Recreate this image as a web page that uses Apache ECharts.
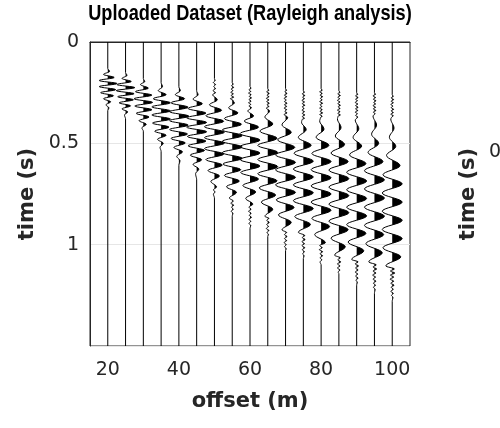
<!DOCTYPE html>
<html><head><meta charset="utf-8">
<script src="https://cdn.jsdelivr.net/npm/echarts@6/dist/echarts.min.js"></script>
<style>html,body{margin:0;padding:0;background:#fff}#c{width:500px;height:428px}</style>
</head><body><div id="c"></div>
<script>
// offsets of the traces (m)
const offsets = [20,25,30,35,40,45,50,55,60,65,70,75,80,85,90,95,100];
// tick labels
const xTickLabels = [20,40,60,80,100];
const yTickLabels = [0,0.5,1];
// each trace: [time (s), amplitude (m)] extrema
const tr20 = [[0.13,0],[0.145,0.5],[0.16,-1.2],[0.175,1.8],[0.19,-2.4],[0.205,2.6],[0.22,-2.4],[0.235,2.2],[0.25,-2.0],[0.265,1.6],[0.28,-1.2],[0.295,0.8],[0.31,-0.5],[0.325,0.3],[0.34,0]];
const tr25 = [[0.15,0],[0.165,0.4],[0.18,-1],[0.195,1.6],[0.21,-2.4],[0.225,2.6],[0.24,-2.6],[0.255,2.4],[0.27,-2.2],[0.285,2.2],[0.30,-1.8],[0.315,1.4],[0.33,-1],[0.345,0.6],[0.36,-0.3],[0.38,0]];
const tr30 = [[0.18,0],[0.195,0.4],[0.21,-0.8],[0.228,1.4],[0.245,-2.2],[0.262,2.4],[0.28,-2.6],[0.298,2.6],[0.316,-2.4],[0.334,2.4],[0.352,-2],[0.37,1.6],[0.388,-1.2],[0.406,0.8],[0.424,-0.4],[0.44,0]];
const tr35 = [[0.2,0],[0.22,0.4],[0.24,-0.8],[0.26,1.4],[0.28,-2.2],[0.30,2.6],[0.32,-2.6],[0.34,2.6],[0.36,-2.6],[0.38,2.6],[0.40,-2.4],[0.42,2.2],[0.44,-1.8],[0.46,1.4],[0.48,-1],[0.50,0.6],[0.52,-0.3],[0.54,0]];
const tr40 = [[0.22,0],[0.24,0.4],[0.26,-1],[0.28,1.6],[0.30,-2.2],[0.322,2.6],[0.344,-2.6],[0.366,2.8],[0.388,-2.6],[0.41,2.6],[0.432,-2.6],[0.454,2.4],[0.476,-2.2],[0.498,1.8],[0.52,-1.4],[0.542,1],[0.564,-0.6],[0.586,0.3],[0.61,0]];
const tr45 = [[0.24,0],[0.26,0.4],[0.282,-1],[0.305,1.6],[0.328,-2.4],[0.351,2.6],[0.374,-2.8],[0.397,2.8],[0.42,-2.8],[0.443,2.8],[0.466,-2.6],[0.489,2.6],[0.512,-2.4],[0.535,2.2],[0.558,-1.8],[0.581,1.4],[0.604,-1],[0.627,0.6],[0.65,-0.3],[0.68,0]];
const tr50 = [[0.18,0],[0.19,0.2],[0.2,-0.3],[0.21,0.3],[0.22,-0.2],[0.23,0.3],[0.24,-0.4],[0.25,0.3],[0.26,-0.5],[0.285,0.8],[0.31,-1.4],[0.337,2],[0.364,-2.4],[0.391,2.6],[0.418,-2.8],[0.445,2.8],[0.472,-2.8],[0.499,2.8],[0.526,-2.8],[0.553,2.6],[0.58,-2.4],[0.607,2.2],[0.634,-1.8],[0.661,1.4],[0.688,-1],[0.715,0.6],[0.73,-0.3],[0.74,0.2],[0.75,-0.3],[0.77,0]];
const tr55 = [[0.2,0],[0.208,0.3],[0.216,-0.2],[0.224,0.4],[0.232,-0.3],[0.24,0.2],[0.248,-0.4],[0.256,0.3],[0.264,-0.3],[0.272,0.4],[0.28,-0.5],[0.29,0.3],[0.30,0.6],[0.325,-1],[0.35,1.6],[0.378,-2.2],[0.406,2.6],[0.434,-2.8],[0.462,2.8],[0.49,-2.8],[0.518,2.8],[0.546,-2.8],[0.574,2.8],[0.602,-2.6],[0.63,2.4],[0.658,-2.2],[0.686,2],[0.714,-1.6],[0.742,1.2],[0.77,-0.8],[0.785,0.3],[0.795,-0.4],[0.805,0.4],[0.815,-0.2],[0.825,0.3],[0.835,-0.3],[0.845,0.2],[0.86,0]];
const tr60 = [[0.22,0],[0.228,0.3],[0.236,-0.3],[0.244,0.2],[0.252,-0.4],[0.26,0.3],[0.268,-0.2],[0.276,0.4],[0.284,-0.3],[0.292,0.3],[0.30,-0.4],[0.308,0.2],[0.316,-0.3],[0.324,0.4],[0.34,-0.6],[0.365,1],[0.39,-1.6],[0.42,2.4],[0.452,-2.8],[0.484,2.8],[0.516,-2.8],[0.548,2.8],[0.58,-2.8],[0.612,2.8],[0.644,-2.6],[0.676,2.4],[0.708,-2],[0.74,1.6],[0.772,-1.2],[0.80,0.8],[0.815,-0.3],[0.825,0.3],[0.835,-0.4],[0.845,0.3],[0.855,-0.2],[0.865,0.4],[0.875,-0.3],[0.885,0.2],[0.895,-0.3],[0.905,0.2],[0.92,0]];
const tr65 = [[0.23,0],[0.238,0.3],[0.246,-0.3],[0.254,0.4],[0.262,-0.2],[0.27,0.3],[0.278,-0.4],[0.286,0.3],[0.294,-0.3],[0.302,0.4],[0.31,-0.2],[0.318,0.3],[0.326,-0.4],[0.34,0.5],[0.37,-0.8],[0.405,1.4],[0.44,-2.2],[0.475,2.6],[0.51,-2.8],[0.545,2.8],[0.58,-2.8],[0.615,2.8],[0.65,-2.8],[0.685,2.6],[0.72,-2.4],[0.755,2.2],[0.79,-1.8],[0.825,1.4],[0.86,-0.8],[0.87,0.3],[0.88,-0.3],[0.89,0.4],[0.90,-0.3],[0.91,0.2],[0.92,-0.4],[0.93,0.3],[0.94,-0.2],[0.95,0.2],[0.96,0]];
const tr70 = [[0.23,0],[0.238,0.3],[0.246,-0.2],[0.254,0.4],[0.262,-0.3],[0.27,0.3],[0.278,-0.4],[0.286,0.2],[0.294,-0.3],[0.302,0.4],[0.31,-0.3],[0.318,0.3],[0.326,-0.4],[0.334,0.3],[0.342,-0.2],[0.35,0.4],[0.358,-0.4],[0.372,0.6],[0.409,-1],[0.446,1.6],[0.483,-2.2],[0.52,2.6],[0.557,-2.8],[0.594,2.8],[0.631,-2.8],[0.668,2.8],[0.705,-2.8],[0.742,2.8],[0.779,-2.6],[0.816,2.4],[0.853,-2],[0.89,1.6],[0.927,-1],[0.94,0.3],[0.95,-0.3],[0.96,0.4],[0.97,-0.3],[0.98,0.3],[0.99,-0.4],[1.00,0.2],[1.01,-0.3],[1.02,0.2],[1.03,0]];
const tr75 = [[0.24,0],[0.248,0.3],[0.256,-0.3],[0.264,0.4],[0.272,-0.2],[0.28,0.3],[0.288,-0.4],[0.296,0.3],[0.304,-0.3],[0.312,0.4],[0.32,-0.3],[0.328,0.2],[0.336,-0.4],[0.344,0.3],[0.352,-0.3],[0.36,0.4],[0.368,-0.3],[0.376,0.3],[0.384,-0.4],[0.396,-0.5],[0.432,0.8],[0.471,-1.4],[0.51,2.2],[0.549,-2.6],[0.588,2.8],[0.627,-2.8],[0.666,2.8],[0.705,-2.8],[0.744,2.8],[0.783,-2.8],[0.822,2.8],[0.861,-2.4],[0.90,2],[0.939,-1.4],[0.955,0.4],[0.965,-0.3],[0.975,0.5],[0.985,-0.4],[0.995,0.3],[1.005,-0.4],[1.015,0.4],[1.025,-0.3],[1.035,0.3],[1.045,-0.2],[1.055,0.2],[1.07,0]];
const tr80 = [[0.23,0],[0.238,0.3],[0.246,-0.4],[0.254,0.3],[0.262,-0.3],[0.27,0.4],[0.278,-0.2],[0.286,0.3],[0.294,-0.4],[0.302,0.4],[0.31,-0.3],[0.318,0.2],[0.326,-0.4],[0.334,0.3],[0.342,-0.3],[0.35,0.4],[0.358,-0.4],[0.366,0.3],[0.374,-0.2],[0.39,-0.4],[0.43,0.8],[0.47,-1.4],[0.51,2.2],[0.55,-2.6],[0.59,2.8],[0.63,-2.8],[0.67,2.8],[0.71,-2.8],[0.75,2.8],[0.79,-2.8],[0.83,2.8],[0.87,-2.6],[0.91,2.4],[0.95,-1.8],[0.99,1.2],[1.005,-0.4],[1.015,0.3],[1.025,-0.5],[1.035,0.4],[1.045,-0.3],[1.055,0.4],[1.065,-0.3],[1.075,0.2],[1.085,-0.3],[1.1,0]];
const tr85 = [[0.24,0],[0.248,0.3],[0.256,-0.3],[0.264,0.4],[0.272,-0.3],[0.28,0.2],[0.288,-0.4],[0.296,0.3],[0.304,-0.3],[0.312,0.4],[0.32,-0.2],[0.328,0.3],[0.336,-0.4],[0.344,0.3],[0.352,-0.3],[0.36,0.4],[0.368,-0.3],[0.38,-0.4],[0.422,0.6],[0.464,-1],[0.506,1.6],[0.548,-2.2],[0.59,2.6],[0.632,-2.8],[0.674,2.8],[0.716,-2.8],[0.758,2.8],[0.80,-2.8],[0.842,2.8],[0.884,-2.8],[0.926,2.6],[0.968,-2.2],[1.01,1.8],[1.052,-1.2],[1.065,0.4],[1.075,-0.3],[1.085,0.5],[1.095,-0.4],[1.105,0.3],[1.115,-0.4],[1.125,0.3],[1.135,-0.2],[1.145,0]];
const tr90 = [[0.25,0],[0.258,0.3],[0.266,-0.3],[0.274,0.4],[0.282,-0.3],[0.29,0.2],[0.298,-0.4],[0.306,0.3],[0.314,-0.3],[0.322,0.4],[0.33,-0.3],[0.338,0.3],[0.346,-0.4],[0.354,0.2],[0.362,-0.3],[0.37,0.3],[0.385,-0.4],[0.428,0.6],[0.471,-1],[0.514,1.4],[0.557,-2],[0.60,2.6],[0.643,-2.8],[0.686,2.8],[0.729,-2.8],[0.772,2.8],[0.815,-2.8],[0.858,2.8],[0.901,-2.8],[0.944,2.6],[0.987,-2.4],[1.03,2],[1.073,-1.4],[1.085,0.4],[1.095,-0.4],[1.105,0.5],[1.115,-0.3],[1.125,0.4],[1.135,-0.4],[1.145,0.3],[1.155,-0.3],[1.165,0.4],[1.175,-0.2],[1.185,0.2],[1.2,0]];
const tr95 = [[0.25,0],[0.258,0.3],[0.266,-0.4],[0.274,0.3],[0.282,-0.3],[0.29,0.4],[0.298,-0.2],[0.306,0.3],[0.314,-0.4],[0.322,0.3],[0.33,-0.3],[0.338,0.4],[0.346,-0.3],[0.354,0.2],[0.365,-0.4],[0.41,0.6],[0.455,-0.8],[0.50,1.2],[0.545,-1.8],[0.59,2.4],[0.635,-2.8],[0.68,2.8],[0.725,-2.8],[0.77,2.8],[0.815,-2.8],[0.86,2.8],[0.905,-2.8],[0.95,2.6],[0.995,-2.4],[1.04,2.2],[1.085,-1.6],[1.10,0.5],[1.11,-0.4],[1.12,0.6],[1.13,-0.4],[1.14,0.4],[1.15,-0.5],[1.16,0.3],[1.17,-0.4],[1.18,0.4],[1.19,-0.3],[1.20,0.3],[1.21,-0.3],[1.22,0.2],[1.24,0]];
const tr100 = [[0.26,0],[0.268,0.3],[0.276,-0.3],[0.284,0.4],[0.292,-0.3],[0.30,0.3],[0.308,-0.4],[0.316,0.2],[0.324,-0.3],[0.332,0.4],[0.34,-0.3],[0.348,0.3],[0.356,-0.4],[0.364,0.3],[0.372,-0.2],[0.38,-0.4],[0.425,0.5],[0.47,-0.8],[0.515,1],[0.56,-1.6],[0.61,2.2],[0.655,-2.6],[0.70,2.8],[0.745,-2.8],[0.79,2.8],[0.835,-2.8],[0.88,2.8],[0.925,-2.8],[0.97,2.8],[1.015,-2.6],[1.06,2.4],[1.105,-1.8],[1.12,0.6],[1.13,-0.5],[1.14,0.7],[1.15,-0.5],[1.16,0.4],[1.17,-0.6],[1.18,0.4],[1.19,-0.4],[1.20,0.5],[1.21,-0.3],[1.22,0.3],[1.23,-0.4],[1.24,0.3],[1.25,-0.2],[1.26,0.2],[1.28,0]];
const traceList = [tr20,tr25,tr30,tr35,tr40,tr45,tr50,tr55,tr60,tr65,tr70,tr75,tr80,tr85,tr90,tr95,tr100];
const T_MIN = 0, T_MAX = 1.5;

const WIDE = "'DejaVu Sans', Verdana, sans-serif";
const ARIAL = "'Liberation Sans', Arial, Helvetica, sans-serif";
const chart = echarts.init(document.getElementById('c'), null, {renderer:'canvas'});

function renderItem(params, api) {
  const off = api.value(0);
  const pts = traceList[params.dataIndex];
  const s = [[T_MIN, 0]];
  for (let k = 0; k < pts.length - 1; k++) {
    const [t0, a0] = pts[k], [t1, a1] = pts[k + 1];
    const n = 8;
    for (let j = 0; j < n; j++) {
      const f = j / n, w = (1 - Math.cos(Math.PI * f)) / 2;
      s.push([t0 + (t1 - t0) * f, a0 + (a1 - a0) * w]);
    }
  }
  s.push(pts[pts.length - 1]);
  s.push([T_MAX, 0]);
  const line = s.map(([t, a]) => api.coord([off + a, t]));
  const children = [];
  let poly = null;
  for (let j = 1; j < s.length; j++) {
    const [tp, ap] = s[j - 1], [tc, ac] = s[j];
    if (ap <= 0 && ac > 0) {
      const tz = tp + (tc - tp) * (0 - ap) / (ac - ap);
      poly = [api.coord([off, tz]), api.coord([off + ac, tc])];
    } else if (ap > 0 && ac > 0) {
      if (poly) poly.push(api.coord([off + ac, tc]));
    } else if (ap > 0 && ac <= 0) {
      const tz = tp + (tc - tp) * (0 - ap) / (ac - ap);
      if (poly) {
        poly.push(api.coord([off, tz]));
        children.push({type:'polygon', shape:{points:poly}, style:{fill:'#000', stroke:null}});
      }
      poly = null;
    }
  }
  children.push({type:'polyline', shape:{points:line}, style:{stroke:'#000', lineWidth:1, fill:null}});
  return {type:'group', children};
}

chart.setOption({
  animation: false,
  backgroundColor: '#fff',
  grid: {left: 90, right: 90, top: 42, bottom: 82, show: true, borderColor: '#262626', borderWidth: 1, backgroundColor: 'transparent'},
  xAxis: {
    type: 'value', min: 15, max: 105, interval: 5,
    axisLine: {show: true, lineStyle: {color: '#262626', width: 1}},
    axisTick: {show: false},
    splitLine: {show: false},
    axisLabel: {formatter: v => xTickLabels.includes(v) ? String(v) : '', fontFamily: WIDE, fontSize: 19, color: '#262626', margin: 15},
    name: 'offset (m)', nameLocation: 'middle', nameGap: 45,
    nameTextStyle: {fontFamily: WIDE, fontWeight: 'bold', fontSize: 21, color: '#262626'}
  },
  yAxis: {
    type: 'value', inverse: true, min: T_MIN, max: T_MAX, interval: 0.5,
    axisLine: {show: true, lineStyle: {color: '#262626', width: 1}},
    axisTick: {show: false},
    splitLine: {show: true, lineStyle: {color: '#e6e6e6', width: 1}},
    axisLabel: {formatter: v => yTickLabels.includes(v) ? String(v) : '', fontFamily: WIDE, fontSize: 19, color: '#262626', margin: 11},
    name: 'time (s)', nameLocation: 'middle', nameGap: 44,
    nameTextStyle: {fontFamily: WIDE, fontWeight: 'bold', fontSize: 21, color: '#262626'}
  },
  graphic: [
    {type: 'text', x: 250, y: 14, scaleX: 0.827, scaleY: 1, z: 10,
     style: {text: 'Uploaded Dataset (Rayleigh analysis)', fontFamily: ARIAL, fontWeight: 'bold', fontSize: 22, fill: '#000', align: 'center', verticalAlign: 'middle'}},
    {type: 'text', x: 469, y: 194, rotation: Math.PI / 2, style: {text: 'time (s)', fontFamily: WIDE, fontWeight: 'bold', fontSize: 21, fill: '#262626', align: 'center', verticalAlign: 'middle'}},
    {type: 'text', x: 489, y: 152, style: {text: '0', fontFamily: WIDE, fontSize: 19, fill: '#262626', align: 'left', verticalAlign: 'middle'}}
  ],
  series: [{
    type: 'custom',
    renderItem: renderItem,
    data: offsets.map(o => [o, 0.75]),
    encode: {x: 0, y: 1},
    clip: false,
    z: 3
  }]
});
</script>
</body></html>
